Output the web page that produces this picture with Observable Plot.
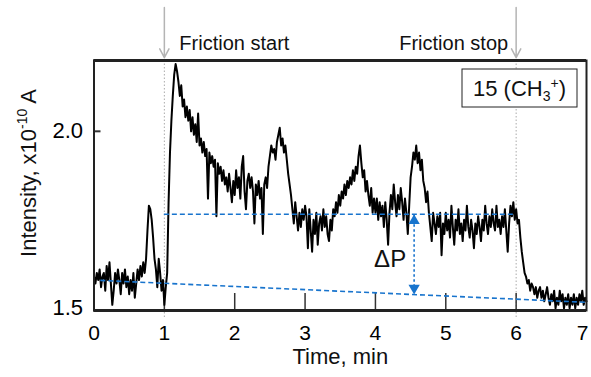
<!DOCTYPE html>
<html><head><meta charset="utf-8">
<script src="https://cdn.jsdelivr.net/npm/d3@7"></script>
<script src="https://cdn.jsdelivr.net/npm/@observablehq/plot@0.6"></script>
<style>
html,body{margin:0;padding:0;background:#fff;}
#chart{width:591px;height:377px;}
</style></head><body><div id="chart"></div>
<script>
// Ion current of mass 15 (CH3+) vs time: [time (min), intensity (x1e-10 A)]
const signal = [
[0.00,1.59],[0.02,1.57],[0.04,1.60],[0.06,1.58],[0.08,1.61],[0.10,1.56],[0.12,1.59],[0.14,1.60],[0.16,1.55],[0.18,1.62],
[0.20,1.58],[0.22,1.63],[0.24,1.57],[0.26,1.51],[0.28,1.55],[0.30,1.60],[0.32,1.57],[0.34,1.61],[0.36,1.58],[0.38,1.54],
[0.40,1.60],[0.42,1.57],[0.44,1.61],[0.46,1.56],[0.48,1.59],[0.50,1.54],[0.52,1.58],[0.54,1.55],[0.56,1.60],[0.58,1.53],
[0.60,1.57],[0.62,1.61],[0.64,1.58],[0.66,1.62],[0.68,1.59],[0.70,1.63],[0.72,1.60],[0.74,1.64],[0.76,1.72],[0.78,1.79],
[0.80,1.78],[0.82,1.75],[0.84,1.70],[0.86,1.64],[0.88,1.61],[0.90,1.56],[0.92,1.64],[0.94,1.60],[0.96,1.55],[0.98,1.58],
[1.00,1.51],[1.02,1.56],[1.04,1.60],[1.06,1.80],[1.08,1.94],[1.10,2.03],[1.12,2.10],[1.14,2.16],[1.16,2.19],[1.18,2.17],
[1.20,2.14],[1.22,2.10],[1.24,2.13],[1.26,2.07],[1.28,2.09],[1.30,2.04],[1.32,2.07],[1.34,2.03],[1.36,2.06],[1.38,2.00],
[1.40,2.04],[1.42,1.99],[1.44,2.02],[1.46,1.97],[1.48,2.05],[1.50,1.96],[1.52,1.98],[1.54,1.94],[1.56,1.97],[1.58,1.93],
[1.60,1.95],[1.62,1.81],[1.64,1.94],[1.66,1.91],[1.68,1.93],[1.70,1.90],[1.72,1.92],[1.74,1.76],[1.76,1.91],[1.78,1.88],
[1.80,1.90],[1.82,1.86],[1.84,1.89],[1.86,1.85],[1.88,1.87],[1.90,1.83],[1.92,1.88],[1.94,1.84],[1.96,1.80],[1.98,1.86],
[2.00,1.82],[2.02,1.89],[2.04,1.84],[2.06,1.87],[2.08,1.81],[2.10,1.90],[2.12,1.93],[2.14,1.83],[2.16,1.78],[2.18,1.86],
[2.20,1.88],[2.22,1.84],[2.24,1.87],[2.26,1.83],[2.28,1.74],[2.30,1.85],[2.32,1.82],[2.34,1.86],[2.36,1.81],[2.38,1.84],
[2.40,1.71],[2.42,1.85],[2.44,1.87],[2.46,1.84],[2.48,1.90],[2.50,1.93],[2.52,1.96],[2.54,1.94],[2.56,1.95],[2.58,1.92],
[2.60,1.97],[2.62,1.99],[2.64,2.01],[2.66,1.96],[2.68,1.98],[2.70,1.94],[2.72,1.96],[2.74,1.92],[2.76,1.88],[2.78,1.85],
[2.80,1.82],[2.82,1.78],[2.84,1.74],[2.86,1.80],[2.88,1.76],[2.90,1.72],[2.92,1.77],[2.94,1.73],[2.96,1.78],[2.98,1.75],
[3.00,1.79],[3.02,1.76],[3.04,1.67],[3.06,1.78],[3.08,1.72],[3.10,1.66],[3.12,1.75],[3.14,1.71],[3.16,1.77],[3.18,1.68],
[3.20,1.74],[3.22,1.76],[3.24,1.72],[3.26,1.78],[3.28,1.73],[3.30,1.76],[3.32,1.71],[3.34,1.69],[3.36,1.75],[3.38,1.72],
[3.40,1.78],[3.42,1.76],[3.44,1.80],[3.46,1.77],[3.48,1.82],[3.50,1.79],[3.52,1.83],[3.54,1.81],[3.56,1.85],[3.58,1.82],
[3.60,1.86],[3.62,1.84],[3.64,1.87],[3.66,1.85],[3.68,1.89],[3.70,1.86],[3.72,1.90],[3.74,1.88],[3.76,1.93],[3.78,1.96],
[3.80,1.91],[3.82,1.87],[3.84,1.89],[3.86,1.83],[3.88,1.86],[3.90,1.82],[3.92,1.79],[3.94,1.84],[3.96,1.77],[3.98,1.81],
[4.00,1.77],[4.02,1.81],[4.04,1.75],[4.06,1.80],[4.08,1.76],[4.10,1.79],[4.12,1.73],[4.14,1.80],[4.16,1.75],[4.18,1.68],
[4.20,1.77],[4.22,1.82],[4.24,1.78],[4.26,1.85],[4.28,1.80],[4.30,1.76],[4.32,1.82],[4.34,1.78],[4.36,1.84],[4.38,1.80],
[4.40,1.75],[4.42,1.81],[4.44,1.77],[4.46,1.71],[4.48,1.79],[4.50,1.87],[4.52,1.90],[4.54,1.94],[4.56,1.92],[4.58,1.96],
[4.60,1.91],[4.62,1.94],[4.64,1.89],[4.66,1.92],[4.68,1.86],[4.70,1.84],[4.72,1.80],[4.74,1.83],[4.76,1.77],[4.78,1.73],
[4.80,1.69],[4.82,1.77],[4.84,1.74],[4.86,1.71],[4.88,1.76],[4.90,1.73],[4.92,1.77],[4.94,1.65],[4.96,1.74],[4.98,1.71],
[5.00,1.77],[5.02,1.72],[5.04,1.75],[5.06,1.70],[5.08,1.79],[5.10,1.73],[5.12,1.68],[5.14,1.75],[5.16,1.72],[5.18,1.78],
[5.20,1.71],[5.22,1.74],[5.24,1.69],[5.26,1.75],[5.28,1.72],[5.30,1.79],[5.32,1.73],[5.34,1.70],[5.36,1.75],[5.38,1.72],
[5.40,1.67],[5.42,1.74],[5.44,1.71],[5.46,1.76],[5.48,1.73],[5.50,1.69],[5.52,1.75],[5.54,1.72],[5.56,1.79],[5.58,1.74],
[5.60,1.71],[5.62,1.76],[5.64,1.73],[5.66,1.78],[5.68,1.74],[5.70,1.72],[5.72,1.79],[5.74,1.73],[5.76,1.75],[5.78,1.71],
[5.80,1.76],[5.82,1.73],[5.84,1.78],[5.86,1.72],[5.88,1.66],[5.90,1.74],[5.92,1.79],[5.94,1.76],[5.96,1.80],[5.98,1.75],
[6.00,1.78],[6.02,1.74],[6.04,1.75],[6.06,1.70],[6.08,1.66],[6.10,1.63],[6.12,1.60],[6.14,1.59],[6.16,1.57],[6.18,1.58],
[6.20,1.55],[6.22,1.57],[6.24,1.56],[6.26,1.54],[6.28,1.56],[6.30,1.53],[6.32,1.55],[6.34,1.56],[6.36,1.53],[6.38,1.55],
[6.40,1.52],[6.42,1.54],[6.44,1.56],[6.46,1.53],[6.48,1.51],[6.50,1.54],[6.52,1.52],[6.54,1.55],[6.56,1.50],[6.58,1.53],
[6.60,1.51],[6.62,1.55],[6.64,1.52],[6.66,1.54],[6.68,1.50],[6.70,1.53],[6.72,1.51],[6.74,1.54],[6.76,1.50],[6.78,1.53],
[6.80,1.51],[6.82,1.54],[6.84,1.50],[6.86,1.53],[6.88,1.51],[6.90,1.54],[6.92,1.52],[6.94,1.55],[6.96,1.51],[6.98,1.53],
[7.00,1.52]
];
const events = [{t: 1, label: "Friction start", side: "start"}, {t: 6, label: "Friction stop", side: "end"}];
const xTicks = [0, 1, 2, 3, 4, 5, 6];
const xLastTick = [7];
const xInnerTicks = [1, 2, 3, 4, 5, 6];
const yTicks = [1.5, 2.0];
const yInnerTicks = [2.0];
const xDomain = [0, 7];
const yDomain = [1.494, 2.2];
const plateau = [{t1: 1, t2: 6, v: 1.766}];
const baselineT = [0.09, 7];
const baselineV = [1.579, 1.517];
const deltaT = 4.55;
const deltaLabel = "ΔP";
const xLabel = "Time, min";
const species = {mass: "15", formula: "CH", sub: "3", sup: "+"};

const W = 591, H = 377;
const mL = 93.5, mR = 5, mT = 60, mB = 67;
const blue = "#1874cd";
const font = "Liberation Sans, Arial, sans-serif";

const baseAt = d3.scaleLinear().domain(baselineT).range(baselineV);
const deltaRow = [{t: deltaT, top: plateau[0].v, bot: baseAt(deltaT)}];
const baseRow = [{x1: baselineT[0], y1: baselineV[0], x2: baselineT[1], y2: baselineV[1]}];
const data = signal.map(([t, v]) => ({t, v}));

const svg = Plot.plot({
  width: W, height: H,
  marginLeft: mL, marginRight: mR, marginTop: mT, marginBottom: mB,
  x: {domain: xDomain},
  y: {domain: yDomain},
  style: {fontFamily: font, background: "white", color: "black", overflow: "visible"},
  marks: [
    // friction event markers
    Plot.ruleX(events, {x: "t", stroke: "#aaa", strokeWidth: 1, strokeDasharray: "1.5,2", insetBottom: -8}),
    Plot.arrow(events, {x: "t", y1: () => yDomain[1] + 0.15, y2: () => yDomain[1] + 0.008,
      stroke: "#b4b4b4", strokeWidth: 1.5, headLength: 10, headAngle: 55}),
    Plot.text(events.filter(d => d.side === "start"), {x: "t", text: "label", frameAnchor: "top", dy: -25, dx: 15,
      textAnchor: "start", fontSize: 20, fill: "#111"}),
    Plot.text(events.filter(d => d.side === "end"), {x: "t", text: "label", frameAnchor: "top", dy: -25, dx: -8,
      textAnchor: "end", fontSize: 20, fill: "#111"}),
    // inward ticks
    Plot.tickX(xInnerTicks, {x: d => d, stroke: "#333", strokeWidth: 1.5, insetTop: (H - mT - mB) - 17}),
    Plot.tickY(yInnerTicks, {y: d => d, stroke: "#333", strokeWidth: 2, insetRight: (W - mL - mR) - 7}),
    // axes labels
    Plot.axisX({ticks: xTicks, tickSize: 0, tickPadding: 15, fontSize: 21, label: null, tickFormat: d => String(d)}),
    Plot.axisX({ticks: xLastTick, tickSize: 0, tickPadding: 15, fontSize: 21, label: null, dx: -4, tickFormat: d => String(d)}),
    Plot.axisY({ticks: yTicks, tickSize: 0, tickPadding: 11, fontSize: 22, label: null, tickFormat: ".1f"}),
    Plot.text([xLabel], {frameAnchor: "bottom", dy: 53, fontSize: 22, fill: "#111"}),
    // data
    Plot.line(data, {x: "t", y: "v", stroke: "#000", strokeWidth: 2, strokeLinejoin: "round"}),
    // reference lines
    Plot.ruleY(plateau, {y: "v", x1: "t1", x2: "t2", stroke: blue, strokeWidth: 1.6, strokeDasharray: "5,3"}),
    Plot.link(baseRow, {x1: "x1", y1: "y1", x2: "x2", y2: "y2", stroke: blue, strokeWidth: 1.6, strokeDasharray: "5,3"}),
    Plot.link(deltaRow, {x1: "t", x2: "t", y1: "top", y2: "bot", stroke: blue, strokeWidth: 1.6, strokeDasharray: "2.5,2.5"}),
    Plot.dot(deltaRow, {x: "t", y: "top", symbol: "triangle", r: 4.2, fill: blue, stroke: "none", dy: 6.5}),
    Plot.dot(deltaRow, {x: "t", y: "bot", symbol: "triangle", r: 4.2, fill: blue, stroke: "none", dy: -6.5, rotate: 180}),
    Plot.text(deltaRow, {x: "t", y: d => (d.top + d.bot) / 2, text: () => deltaLabel, dx: -24, dy: 5, fontSize: 24, fill: "#111"}),
    // frame
    Plot.frame({stroke: "#222", strokeWidth: 2}),
    Plot.ruleY([yDomain[1]], {stroke: "#222", strokeWidth: 3}),
    Plot.ruleY([yDomain[0]], {stroke: "#222", strokeWidth: 3})
  ]
});
document.getElementById("chart").append(svg);

const s = d3.select(svg);
// y-axis title with superscript
const yl = s.append("text")
  .attr("transform", `translate(36,${(mT + (H - mB)) / 2 - 12}) rotate(-90)`)
  .attr("text-anchor", "middle")
  .attr("font-family", font).attr("font-size", 22).attr("fill", "#111");
yl.append("tspan").text("Intensity, x10");
yl.append("tspan").attr("font-size", 14).attr("dy", -9).text("-10");
yl.append("tspan").attr("dy", 9).text(" A");

// species label box
const bx = W - mR - 9 - 115, by = mT + 9;
s.append("rect").attr("x", bx).attr("y", by).attr("width", 115).attr("height", 38)
  .attr("fill", "white").attr("stroke", "#222").attr("stroke-width", 1);
const lt = s.append("text").attr("x", bx + 57.5).attr("y", by + 27)
  .attr("text-anchor", "middle").attr("font-family", font).attr("font-size", 22).attr("fill", "#111");
lt.append("tspan").text(species.mass + " (" + species.formula);
lt.append("tspan").attr("font-size", 14).attr("dy", 5).text(species.sub);
lt.append("tspan").attr("font-size", 14).attr("dy", -13).text(species.sup);
lt.append("tspan").attr("dy", 8).text(")");
</script></body></html>
